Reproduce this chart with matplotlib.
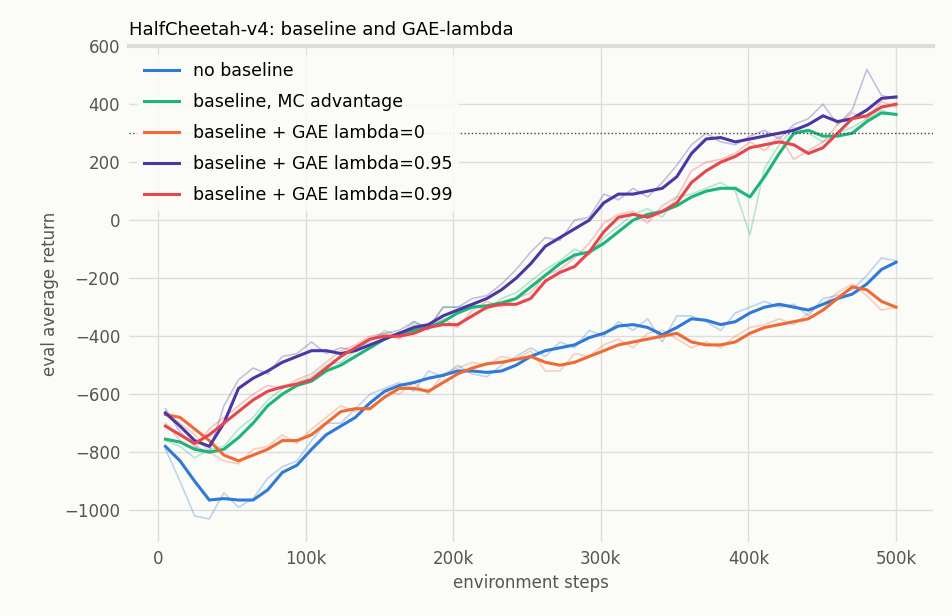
import numpy as np
import matplotlib
matplotlib.use("Agg")
import matplotlib.pyplot as plt

steps = np.linspace(5000, 500000, 51)
labels = ["no baseline", "baseline, MC advantage", "baseline + GAE lambda=0",
          "baseline + GAE lambda=0.95", "baseline + GAE lambda=0.99"]
colors = ["#2f7ad6", "#1cb57a", "#f06a35", "#4b36a6", "#e5474b"]

no_base = [-780,-830,-900,-965,-960,-965,-965,-930,-870,-845,-790,-740,-710,-680,-630,-590,-570,-560,-545,-535,-520,-520,-525,-520,-500,-470,-450,-440,-430,-405,-390,-365,-360,-370,-395,-370,-340,-345,-360,-350,-320,-300,-290,-300,-310,-290,-270,-255,-220,-170,-145]
mc_adv = [-755,-765,-790,-800,-790,-750,-700,-640,-600,-570,-555,-520,-500,-470,-440,-410,-390,-380,-370,-350,-320,-300,-295,-285,-270,-230,-190,-150,-120,-110,-80,-40,0,20,30,50,80,100,110,110,80,150,230,300,310,290,290,300,340,370,365]
gae0 = [-670,-680,-720,-760,-810,-830,-810,-790,-760,-760,-740,-700,-660,-650,-650,-610,-580,-580,-590,-560,-530,-510,-495,-490,-480,-470,-490,-500,-490,-470,-450,-430,-420,-410,-400,-390,-420,-430,-430,-420,-390,-370,-360,-350,-340,-310,-270,-230,-240,-280,-300]
gae95 = [-665,-710,-760,-780,-700,-580,-545,-520,-490,-470,-450,-450,-460,-450,-430,-410,-390,-370,-360,-330,-310,-290,-270,-240,-200,-150,-90,-60,-30,0,60,90,90,100,110,150,230,280,285,270,280,290,300,310,330,360,340,350,380,420,425]
gae99 = [-710,-740,-770,-740,-700,-660,-620,-590,-575,-565,-550,-510,-470,-440,-410,-400,-400,-390,-370,-360,-360,-330,-300,-290,-290,-270,-210,-180,-160,-110,-40,10,20,10,30,60,130,170,200,220,250,260,270,260,230,250,300,350,360,390,400]

no_base_raw = [-790,-900,-1020,-1030,-940,-990,-960,-890,-850,-830,-760,-700,-700,-650,-600,-580,-560,-590,-520,-540,-500,-530,-540,-500,-470,-440,-470,-420,-440,-380,-400,-350,-380,-340,-420,-330,-330,-350,-380,-320,-300,-280,-300,-290,-330,-270,-260,-240,-190,-130,-140]
mc_adv_raw = [-760,-780,-820,-790,-780,-720,-680,-620,-580,-560,-540,-500,-490,-450,-420,-380,-400,-350,-380,-300,-300,-290,-310,-270,-250,-210,-170,-140,-100,-120,-60,-20,20,40,10,80,90,110,130,100,-50,180,260,320,300,270,300,320,350,380,360]
gae0_raw = [-660,-700,-740,-800,-830,-840,-790,-780,-740,-770,-720,-680,-640,-660,-630,-590,-600,-560,-600,-530,-510,-490,-500,-470,-480,-450,-520,-520,-460,-470,-430,-410,-440,-390,-380,-410,-440,-420,-440,-400,-370,-360,-340,-360,-320,-290,-250,-220,-260,-310,-300]
gae95_raw = [-650,-730,-780,-800,-640,-550,-510,-530,-470,-460,-420,-460,-440,-450,-410,-390,-380,-350,-370,-300,-300,-270,-260,-220,-170,-110,-60,-70,0,10,90,70,110,80,130,190,260,300,270,260,290,310,280,330,350,400,330,380,520,430,420]
gae99_raw = [-700,-760,-790,-720,-680,-640,-600,-570,-580,-550,-530,-490,-450,-430,-400,-390,-410,-360,-370,-340,-370,-310,-280,-300,-270,-250,-190,-170,-130,-80,-10,20,30,-10,50,80,170,200,210,230,270,240,290,210,240,270,330,370,350,410,390]

smooth = [no_base, mc_adv, gae0, gae95, gae99]
raw = [no_base_raw, mc_adv_raw, gae0_raw, gae95_raw, gae99_raw]

bg = "#fbfbf8"
fig, ax = plt.subplots(figsize=(9.52, 6.16), dpi=100, facecolor=bg)
ax.set_facecolor(bg)
for r, c in zip(raw, colors):
    ax.plot(steps, r, color=c, lw=1.2, alpha=0.3)
for s, c, l in zip(smooth, colors, labels):
    ax.plot(steps, s, color=c, lw=2.2, label=l)
ax.axhline(300, color="#444444", lw=1, ls=":")
ax.set_xlim(-20000, 525000)
ax.set_ylim(-1110, 600)
ax.set_xticks([0, 100000, 200000, 300000, 400000, 500000])
ax.set_xticklabels(["0", "100k", "200k", "300k", "400k", "500k"])
ax.set_yticks(range(-1000, 601, 200))
ax.set_yticklabels([("\u2212%d" % -v if v < 0 else str(v)) for v in range(-1000, 601, 200)])
ax.grid(True, color="#dddddd", lw=1)
ax.set_axisbelow(True)
for sp in ["left", "right", "bottom"]:
    ax.spines[sp].set_visible(False)
ax.spines["top"].set_color("#dddddd")
ax.spines["top"].set_linewidth(3)
ax.tick_params(colors="#555555", labelsize=12, length=0, pad=6)
ax.set_xlabel("environment steps", fontsize=12, color="#555555")
ax.set_ylabel("eval average return", fontsize=12, color="#555555")
ax.set_title("HalfCheetah-v4: baseline and GAE-lambda", loc="left", fontsize=13, pad=8)
leg = ax.legend(loc="upper left", fontsize=12.5, frameon=True, facecolor=bg, edgecolor="none",
                framealpha=0.9, labelspacing=0.75)
fig.subplots_adjust(left=0.135, right=0.98, top=0.925, bottom=0.12)
fig.savefig("out.png", dpi=100, facecolor=bg)
